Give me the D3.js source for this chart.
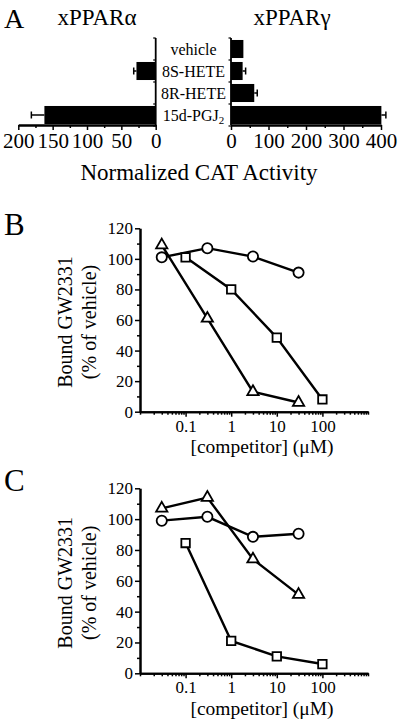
<!DOCTYPE html>
<html>
<head>
<meta charset="utf-8">
<script src="https://cdn.jsdelivr.net/npm/d3@7"></script>
<style>
  html, body { margin: 0; padding: 0; background: #fff; }
  svg { display: block; }
  text { font-family: "Liberation Serif", "Times New Roman", serif; fill: #000; }
</style>
</head>
<body>
<svg id="chart" width="400" height="728"></svg>
<script>
// ---------- Panel A data ----------
const categories = ["vehicle", "8S-HETE", "8R-HETE", "15d-PGJ2"];
const alphaValues = [0, 28, 0, 162];
const alphaErrors = [0, 4, 0, 19];
const gammaValues = [33, 31, 62, 401];
const gammaErrors = [0, 8, 8, 12];
const alphaTicks = [0, 50, 100, 150, 200];
const alphaMinorTicks = [25, 75, 125, 175];
const gammaTicks = [0, 100, 200, 300, 400];
const gammaMinorTicks = [50, 150, 250, 350];

// ---------- Panels B & C data ----------
const concTicks = [0.1, 1, 10, 100];
const boundTicks = [0, 20, 40, 60, 80, 100, 120];
const boundMinorTicks = [10, 30, 50, 70, 90, 110];

const bCircleX = [0.03, 0.3, 3, 30];
const bCircleY = [101, 107, 101.5, 91];
const bTriangleX = [0.03, 0.3, 3, 30];
const bTriangleY = [109, 61, 13, 6];
const bSquareX = [0.1, 1, 10, 100];
const bSquareY = [101, 80, 48.5, 8];

const cCircleX = [0.03, 0.3, 3, 30];
const cCircleY = [99, 101.5, 88.5, 90.5];
const cTriangleX = [0.03, 0.3, 3, 30];
const cTriangleY = [107, 114, 74, 51];
const cSquareX = [0.1, 1, 10, 100];
const cSquareY = [84.5, 21, 11, 6];

const svg = d3.select("#chart");

// ================= Panel A =================
(function panelA() {
  const g = svg.append("g");
  const xL = d3.scaleLinear().domain([0, 200]).range([155.7, 18.3]);
  const xR = d3.scaleLinear().domain([0, 400]).range([231, 381]);
  const y = d3.scaleBand().domain(categories).range([38, 126]).paddingInner(0.18).paddingOuter(0.09);

  g.append("text").attr("x", 4).attr("y", 28).attr("font-size", 28).text("A");
  g.append("text").attr("x", 97).attr("y", 25).attr("font-size", 23).attr("text-anchor", "middle").text("xPPARα");
  g.append("text").attr("x", 292).attr("y", 25).attr("font-size", 23).attr("text-anchor", "middle").text("xPPARγ");

  // bars
  const rows = categories.map((c, i) => ({c, a: alphaValues[i], ae: alphaErrors[i], g: gammaValues[i], ge: gammaErrors[i]}));
  g.selectAll(".barL").data(rows).join("rect")
    .attr("x", d => xL(d.a)).attr("y", d => y(d.c))
    .attr("width", d => xL(0) - xL(d.a)).attr("height", y.bandwidth()).attr("fill", "#000");
  g.selectAll(".barR").data(rows).join("rect")
    .attr("x", xR(0)).attr("y", d => y(d.c))
    .attr("width", d => xR(d.g) - xR(0)).attr("height", y.bandwidth()).attr("fill", "#000");

  // error bars
  rows.filter(d => d.ae > 0).forEach(d => {
    const cy = y(d.c) + y.bandwidth() / 2;
    g.append("line").attr("x1", xL(d.a)).attr("x2", xL(d.a + d.ae)).attr("y1", cy).attr("y2", cy).attr("stroke", "#000").attr("stroke-width", 1.5);
    g.append("line").attr("x1", xL(d.a + d.ae)).attr("x2", xL(d.a + d.ae)).attr("y1", cy - 3.5).attr("y2", cy + 3.5).attr("stroke", "#000").attr("stroke-width", 1.5);
  });
  rows.filter(d => d.ge > 0).forEach(d => {
    const cy = y(d.c) + y.bandwidth() / 2;
    g.append("line").attr("x1", xR(d.g)).attr("x2", xR(d.g + d.ge)).attr("y1", cy).attr("y2", cy).attr("stroke", "#000").attr("stroke-width", 1.5);
    g.append("line").attr("x1", xR(d.g + d.ge)).attr("x2", xR(d.g + d.ge)).attr("y1", cy - 3.5).attr("y2", cy + 3.5).attr("stroke", "#000").attr("stroke-width", 1.5);
  });

  // category labels
  rows.forEach(d => {
    const t = g.append("text").attr("x", 193.5).attr("y", y(d.c) + y.bandwidth() / 2 + 5.5)
      .attr("font-size", 16).attr("text-anchor", "middle");
    const m = d.c.match(/^(.*PGJ)(2)$/);
    if (m) {
      t.append("tspan").text(m[1]);
      t.append("tspan").attr("font-size", 11).attr("dy", 3).text(m[2]);
    } else {
      t.text(d.c);
    }
  });

  // x axes
  const axY = 125;
  const axL = g.append("g").attr("transform", `translate(0,${axY})`)
    .call(d3.axisBottom(xL).tickValues(alphaTicks).tickSize(5).tickSizeOuter(0).tickPadding(3));
  g.append("g").attr("transform", `translate(0,${axY})`)
    .call(d3.axisBottom(xL).tickValues(alphaMinorTicks).tickSize(3).tickSizeOuter(0).tickFormat(""));
  const axR = g.append("g").attr("transform", `translate(0,${axY})`)
    .call(d3.axisBottom(xR).tickValues(gammaTicks).tickSize(5).tickSizeOuter(0).tickPadding(3));
  g.append("g").attr("transform", `translate(0,${axY})`)
    .call(d3.axisBottom(xR).tickValues(gammaMinorTicks).tickSize(3).tickSizeOuter(0).tickFormat(""));
  [axL, axR].forEach(a => a.selectAll("text").attr("font-size", 21));

  // vertical axes with small band ticks
  const bounds = categories.map(c => y(c) - y.step() * 0.09).concat([126]);
  [xL(0), xR(0)].forEach(xx => {
    g.append("line").attr("x1", xx).attr("x2", xx).attr("y1", 38).attr("y2", axY).attr("stroke", "#000").attr("stroke-width", 1.8);
    bounds.forEach(b => g.append("line").attr("x1", xx - 2.5).attr("x2", xx).attr("y1", b).attr("y2", b).attr("stroke", "#000").attr("stroke-width", 1.2));
  });

  g.selectAll(".domain").attr("stroke-width", 1.8);
  g.selectAll(".tick line").attr("stroke-width", 1.5);

  g.append("text").attr("x", 199).attr("y", 180).attr("font-size", 23).attr("text-anchor", "middle").text("Normalized CAT Activity");
})();

// ================= Panels B & C =================
function bindingPanel(opts) {
  const g = svg.append("g");
  const x = d3.scaleLog().domain([0.01, 1000]).range([140, 368]);
  const y = d3.scaleLinear().domain([0, 120]).range([opts.y0, opts.y120]);

  g.append("text").attr("x", 4).attr("y", opts.letterY).attr("font-size", 31).text(opts.letter);

  // axes
  const ax = g.append("g").attr("transform", `translate(0,${opts.y0})`)
    .call(d3.axisBottom(x).tickValues(concTicks).tickSize(5).tickSizeOuter(0).tickPadding(3)
      .tickFormat(d => d < 1 ? String(d) : d3.format("d")(d)));
  const minor = x.ticks().filter(v => concTicks.indexOf(v) < 0);
  g.append("g").attr("transform", `translate(0,${opts.y0})`)
    .call(d3.axisBottom(x).tickValues(minor).tickSize(3).tickSizeOuter(0).tickFormat(""));
  const ay = g.append("g").attr("transform", "translate(140,0)")
    .call(d3.axisLeft(y).tickValues(boundTicks).tickSize(5).tickSizeOuter(0).tickPadding(2));
  g.append("g").attr("transform", "translate(140,0)")
    .call(d3.axisLeft(y).tickValues(boundMinorTicks).tickSize(3).tickSizeOuter(0).tickFormat(""));
  [ax, ay].forEach(a => a.selectAll("text").attr("font-size", 17));
  g.selectAll(".domain").attr("stroke-width", 2);
  g.selectAll(".tick line").attr("stroke-width", 1.5);

  // axis titles
  const cy = (opts.y0 + opts.y120) / 2 + 2;
  g.append("text").attr("transform", `translate(72,${cy}) rotate(-90)`).attr("font-size", 20)
    .attr("text-anchor", "middle").text("Bound GW2331");
  g.append("text").attr("transform", `translate(96,${cy}) rotate(-90)`).attr("font-size", 20)
    .attr("text-anchor", "middle").text("(% of vehicle)");
  g.append("text").attr("x", 262).attr("y", opts.xLabelY).attr("font-size", 19.5)
    .attr("text-anchor", "middle").text("[competitor] (μM)");

  const line = d3.line().x(d => x(d[0])).y(d => y(d[1]));
  const series = opts.series;
  series.forEach(s => {
    const pts = s.xs.map((v, i) => [v, s.ys[i]]);
    g.append("path").attr("d", line(pts)).attr("fill", "none").attr("stroke", "#000").attr("stroke-width", 2.4);
  });
  series.forEach(s => {
    const pts = s.xs.map((v, i) => [v, s.ys[i]]);
    g.selectAll(null).data(pts).join("path")
      .attr("transform", d => `translate(${x(d[0])},${y(d[1])})`)
      .attr("d", d3.symbol().type(s.type).size(s.size)())
      .attr("fill", "#fff").attr("stroke", "#000").attr("stroke-width", 1.8);
  });
}

bindingPanel({
  letter: "B", letterY: 235, y0: 411.7, y120: 228.3, xLabelY: 453,
  series: [
    {xs: bCircleX, ys: bCircleY, type: d3.symbolCircle, size: 82},
    {xs: bSquareX, ys: bSquareY, type: d3.symbolSquare, size: 72},
    {xs: bTriangleX, ys: bTriangleY, type: d3.symbolTriangle, size: 55}
  ]
});

bindingPanel({
  letter: "C", letterY: 491, y0: 673.3, y120: 488.3, xLabelY: 715,
  series: [
    {xs: cCircleX, ys: cCircleY, type: d3.symbolCircle, size: 82},
    {xs: cSquareX, ys: cSquareY, type: d3.symbolSquare, size: 72},
    {xs: cTriangleX, ys: cTriangleY, type: d3.symbolTriangle, size: 55}
  ]
});
</script>
</body>
</html>
